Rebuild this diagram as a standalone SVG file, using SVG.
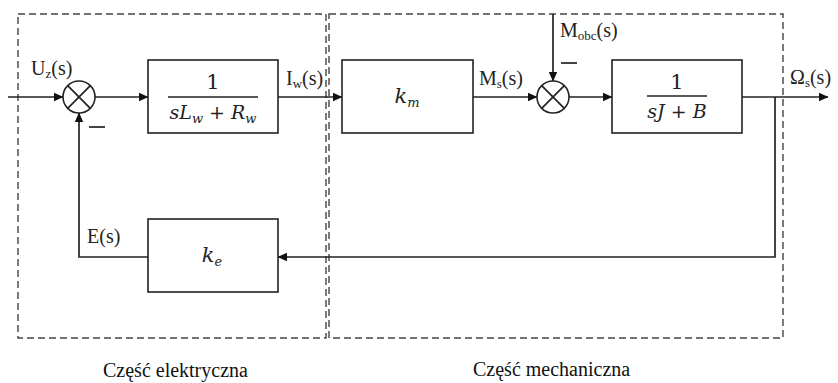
<svg xmlns="http://www.w3.org/2000/svg" width="838" height="383" viewBox="0 0 838 383">
<defs>
<style>
.line{fill:none;stroke:#222;stroke-width:1.7}
.blk{fill:#fff;stroke:#222;stroke-width:1.6}
.dash{fill:none;stroke:#444;stroke-width:1.4;stroke-dasharray:7 4}
.lbl{font-family:"Liberation Serif","Times New Roman",serif;font-size:20px;fill:#222}
.sub{font-size:13px}
.math{font-family:"DejaVu Serif",serif;font-size:19px;fill:#222;font-style:italic}
.big{font-size:21px}
.up{font-style:normal}
.msub{font-size:13px}
.cap{font-family:"Liberation Serif","Times New Roman",serif;font-size:20px;fill:#111}
</style>
<marker id="arr" markerWidth="10" markerHeight="10" refX="9" refY="5" orient="auto" markerUnits="userSpaceOnUse">
<path d="M0,0.8 L9.5,5 L0,9.2 Z" fill="#111"/>
</marker>
</defs>
<rect width="838" height="383" fill="#fff"/>

<g id="regions">
<rect class="dash" x="18" y="14" width="308" height="324"/>
<rect class="dash" x="329" y="14" width="454" height="324"/>
</g>

<g id="connectors">
<line class="line" x1="8" y1="97" x2="63" y2="97" marker-end="url(#arr)"/>
<line class="line" x1="95" y1="97" x2="148" y2="97" marker-end="url(#arr)"/>
<line class="line" x1="278" y1="97" x2="342" y2="97" marker-end="url(#arr)"/>
<line class="line" x1="473" y1="97" x2="537" y2="97" marker-end="url(#arr)"/>
<line class="line" x1="553" y1="14" x2="553" y2="81" marker-end="url(#arr)"/>
<line class="line" x1="569" y1="97" x2="612" y2="97" marker-end="url(#arr)"/>
<line class="line" x1="742" y1="97" x2="828" y2="97" marker-end="url(#arr)"/>
<polyline class="line" points="775,97 775,257 278,257" marker-end="url(#arr)"/>
<polyline class="line" points="148,257 79,257 79,113" marker-end="url(#arr)"/>
</g>

<g id="sum1">
<circle class="blk" cx="79" cy="97" r="16"/>
<line class="line" x1="67.7" y1="85.7" x2="90.3" y2="108.3"/>
<line class="line" x1="90.3" y1="85.7" x2="67.7" y2="108.3"/>
<line class="line" x1="89" y1="127" x2="105" y2="127"/>
</g>

<g id="sum2">
<circle class="blk" cx="553" cy="97" r="16"/>
<line class="line" x1="541.7" y1="85.7" x2="564.3" y2="108.3"/>
<line class="line" x1="564.3" y1="85.7" x2="541.7" y2="108.3"/>
<line class="line" x1="561" y1="63" x2="577" y2="63"/>
</g>

<g id="block-electrical">
<rect class="blk" x="148" y="60" width="130" height="73"/>
<text class="math up big" x="213" y="89" text-anchor="middle">1</text>
<line class="line" x1="168" y1="97" x2="258" y2="97"/>
<text class="math" x="213" y="119" text-anchor="middle">sL<tspan class="msub" dy="4">w</tspan><tspan class="up" dy="-4"> + </tspan>R<tspan class="msub" dy="4">w</tspan></text>
</g>

<g id="block-km">
<rect class="blk" x="342" y="60" width="131" height="73"/>
<text class="math big" x="407" y="103" text-anchor="middle">k<tspan class="msub" dy="4">m</tspan></text>
</g>

<g id="block-mech">
<rect class="blk" x="612" y="60" width="130" height="73"/>
<text class="math up big" x="677" y="89" text-anchor="middle">1</text>
<line class="line" x1="647" y1="96" x2="707" y2="96"/>
<text class="math" x="677" y="118" text-anchor="middle">sJ<tspan class="up"> + </tspan>B</text>
</g>

<g id="block-ke">
<rect class="blk" x="148" y="219" width="130" height="73"/>
<text class="math big" x="212" y="262" text-anchor="middle">k<tspan class="msub" dy="4">e</tspan></text>
</g>

<g id="labels">
<text class="lbl" x="31" y="75">U<tspan class="sub" dy="3">z</tspan><tspan dy="-3">(s)</tspan></text>
<text class="lbl" x="286" y="85">I<tspan class="sub" dy="3">w</tspan><tspan dy="-3">(s)</tspan></text>
<text class="lbl" x="479" y="85">M<tspan class="sub" dy="3">s</tspan><tspan dy="-3">(s)</tspan></text>
<text class="lbl" x="560" y="37">M<tspan class="sub" dy="3">obc</tspan><tspan dy="-3">(s)</tspan></text>
<text class="lbl" x="790" y="84">Ω<tspan class="sub" dy="3">s</tspan><tspan dy="-3">(s)</tspan></text>
<text class="lbl" x="87" y="243">E(s)</text>
<text class="cap" x="103" y="377">Część elektryczna</text>
<text class="cap" x="473" y="376">Część mechaniczna</text>
</g>
</svg>
